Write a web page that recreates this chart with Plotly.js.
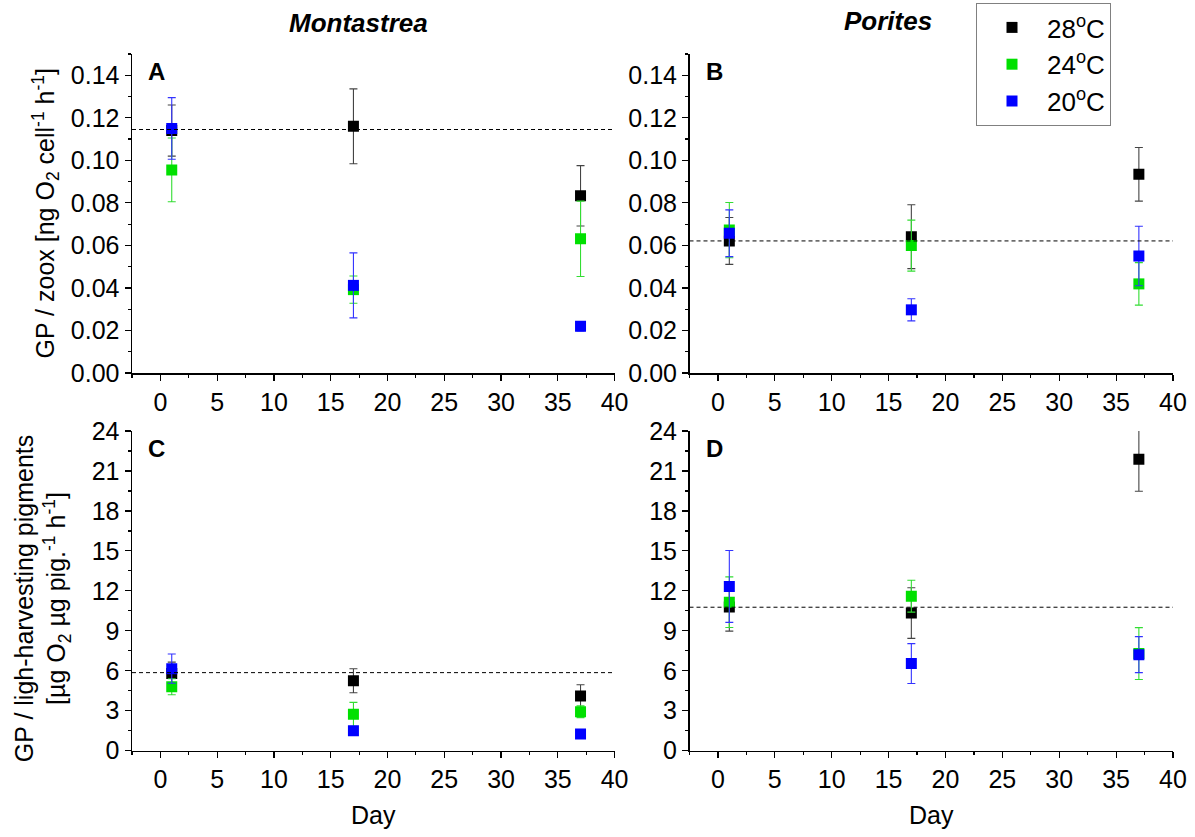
<!DOCTYPE html>
<html>
<head>
<meta charset="utf-8">
<script src="https://cdn.plot.ly/plotly-3.0.1.min.js"></script>
<style>html,body{margin:0;padding:0;background:#fff;}#chart{width:1195px;height:837px;}</style>
</head>
<body>
<div id="chart"></div>
<script>
// ---- data ----
const days = [1, 17, 37];
const seriesNames = ['28<sup>o</sup>C', '24<sup>o</sup>C', '20<sup>o</sup>C'];
const seriesColors = ['#000000', '#00e000', '#0000ff'];
const errColors = ['#444444', '#33dd33', '#3333ff'];

// Panel A: Montastrea, GP / zoox
const A_28 = [0.114, 0.116, 0.0833];
const A_28_err = [0.012, 0.0176, 0.0142];
const A_24 = [0.0955, 0.0392, 0.0631];
const A_24_err = [0.015, 0.0064, 0.0177];
const A_20 = [0.115, 0.0412, 0.022];
const A_20_err = [0.0145, 0.0153, 0.0022];

// Panel B: Porites, GP / zoox
const B_28 = [0.0621, 0.0641, 0.0934];
const B_28_err = [0.011, 0.015, 0.0126];
const B_24 = [0.0672, 0.0599, 0.0419];
const B_24_err = [0.013, 0.012, 0.010];
const B_20 = [0.0657, 0.0297, 0.055];
const B_20_err = [0.011, 0.0052, 0.014];

// Panel C: Montastrea, GP / pigments
const C_28 = [5.8, 5.25, 4.1];
const C_28_err = [0.85, 0.9, 0.85];
const C_24 = [4.8, 2.73, 2.93];
const C_24_err = [0.6, 0.9, 0.45];
const C_20 = [6.16, 1.5, 1.25];
const C_20_err = [1.1, 0.2, 0.15];

// Panel D: Porites, GP / pigments
const D_28 = [10.78, 10.33, 21.88];
const D_28_err = [1.8, 1.9, 2.4];
const D_24 = [11.15, 11.6, 7.29];
const D_24_err = [1.9, 1.2, 1.95];
const D_20 = [12.33, 6.54, 7.21];
const D_20_err = [2.7, 1.5, 1.35];

// dashed reference lines (A, B, C, D)
const refLine = [0.1145, 0.0621, 5.86, 10.77];

const panelLetters = ['A', 'B', 'C', 'D'];
const columnTitles = ['Montastrea', 'Porites'];
const yTitleTop = 'GP / zoox [ng O<sub>2</sub> cell<sup>-1</sup> h<sup>-1</sup>]';
const yTitleBottom = 'GP / ligh-harvesting pigments<br>[µg O<sub>2</sub> µg pig.<sup>-1</sup> h<sup>-1</sup>]';
const xTitle = 'Day';

// ---- build ----
const FONT = 'Liberation Sans, Arial, sans-serif';
const TICKSIZE = 25;
const panels = [
  {ax: '', vals: [A_28, A_24, A_20], errs: [A_28_err, A_24_err, A_20_err]},
  {ax: '2', vals: [B_28, B_24, B_20], errs: [B_28_err, B_24_err, B_20_err]},
  {ax: '3', vals: [C_28, C_24, C_20], errs: [C_28_err, C_24_err, C_20_err]},
  {ax: '4', vals: [D_28, D_24, D_20], errs: [D_28_err, D_24_err, D_20_err]}
];

const traces = [];
panels.forEach((p, pi) => {
  for (let s = 0; s < 3; s++) {
    traces.push({
      type: 'scatter', mode: 'markers',
      x: days, y: p.vals[s],
      xaxis: 'x' + p.ax, yaxis: 'y' + p.ax,
      name: seriesNames[s], legendgroup: 'g' + s, showlegend: pi === 0,
      marker: {symbol: 'square', size: 11, color: seriesColors[s]},
      error_y: {type: 'data', array: p.errs[s], visible: true, color: errColors[s], thickness: 1.1, width: 4}
    });
  }
});

const W = 1195, H = 837;
const xdomL = [132 / W, 614.6 / W];
const xdomR = [689.5 / W, 1173 / W];
const ydomT = [1 - 373 / H, 1 - 54 / H];
const ydomB = [1 - 750.7 / H, 1 - 431 / H];

function xax(dom, anchor) {
  return {
    domain: dom, anchor: anchor, range: [-2.5, 40], tick0: 0, dtick: 5,
    ticks: 'outside', ticklen: 6, tickwidth: 1.2, tickcolor: '#000',
    showline: true, linecolor: '#000', linewidth: 1.5, showgrid: false, zeroline: false,
    minor: {dtick: 2.5, ticks: 'outside', ticklen: 3, tickcolor: '#000', showgrid: false},
    tickfont: {family: FONT, size: TICKSIZE, color: '#000'}
  };
}
function yax(dom, anchor, range, dtick, fmt) {
  return {
    domain: dom, anchor: anchor, range: range, tick0: 0, dtick: dtick, tickformat: fmt,
    ticks: 'outside', ticklen: 6, tickwidth: 1.2, tickcolor: '#000',
    showline: true, linecolor: '#000', linewidth: 1.5, showgrid: false, zeroline: false,
    minor: {dtick: dtick / 2, ticks: 'outside', ticklen: 3, tickcolor: '#000', showgrid: false},
    tickfont: {family: FONT, size: TICKSIZE, color: '#000'}
  };
}

const shapes = refLine.map((v, i) => ({
  type: 'line', xref: 'x' + (i ? i + 1 : '') + ' domain', yref: 'y' + (i ? i + 1 : ''),
  x0: 0, x1: 1, y0: v, y1: v, line: {color: '#000', width: 1, dash: '4px,3px'}
}));

function ann(o) {
  return Object.assign({xref: 'paper', yref: 'paper', showarrow: false, xanchor: 'center', yanchor: 'middle'}, o);
}
const annotations = [];
panelLetters.forEach((L, i) => {
  annotations.push(ann({
    xref: 'x' + (i ? i + 1 : '') + ' domain', yref: 'y' + (i ? i + 1 : '') + ' domain',
    x: 0.03, y: 0.995, xanchor: 'left', yanchor: 'top',
    text: '<b>' + L + '</b>', font: {family: FONT, size: 24, color: '#000'}
  }));
});
annotations.push(ann({x: 358 / W, y: 1 - 23 / H,
  text: '<b><i>' + columnTitles[0] + '</i></b>', font: {family: FONT, size: 26, color: '#000'}}));
annotations.push(ann({x: 888 / W, y: 1 - 21 / H,
  text: '<b><i>' + columnTitles[1] + '</i></b>', font: {family: FONT, size: 26, color: '#000'}}));
annotations.push(ann({x: 45 / W, y: (ydomT[0] + ydomT[1]) / 2,
  textangle: -90, text: yTitleTop, font: {family: FONT, size: 25, color: '#000'}}));
annotations.push(ann({x: 42 / W, y: (ydomB[0] + ydomB[1]) / 2 - 0.01,
  textangle: -90, text: yTitleBottom, font: {family: FONT, size: 25, color: '#000'}}));
annotations.push(ann({x: 373 / W, y: 1 - 815 / H,
  text: xTitle, font: {family: FONT, size: 25, color: '#000'}}));
annotations.push(ann({x: 931 / W, y: 1 - 815 / H,
  text: xTitle, font: {family: FONT, size: 25, color: '#000'}}));

const layout = {
  width: W, height: H, margin: {l: 0, r: 0, t: 0, b: 0},
  paper_bgcolor: '#fff', plot_bgcolor: '#fff',
  font: {family: FONT, color: '#000'},
  xaxis: xax(xdomL, 'y'), yaxis: yax(ydomT, 'x', [0, 0.15], 0.02, '.2f'),
  xaxis2: xax(xdomR, 'y2'), yaxis2: yax(ydomT, 'x2', [0, 0.15], 0.02, '.2f'),
  xaxis3: xax(xdomL, 'y3'), yaxis3: yax(ydomB, 'x3', [0, 24], 3, 'd'),
  xaxis4: xax(xdomR, 'y4'), yaxis4: yax(ydomB, 'x4', [0, 24], 3, 'd'),
  shapes: shapes, annotations: annotations,
  showlegend: true,
  legend: {x: 976 / W, y: 1 - 3 / H, xanchor: 'left', yanchor: 'top',
    bordercolor: '#808080', borderwidth: 1, bgcolor: '#fff',
    font: {family: FONT, size: 26, color: '#000'}, tracegroupgap: 0, itemwidth: 60}
};

Plotly.newPlot('chart', traces, layout, {displayModeBar: false, staticPlot: true});
</script>
</body>
</html>
